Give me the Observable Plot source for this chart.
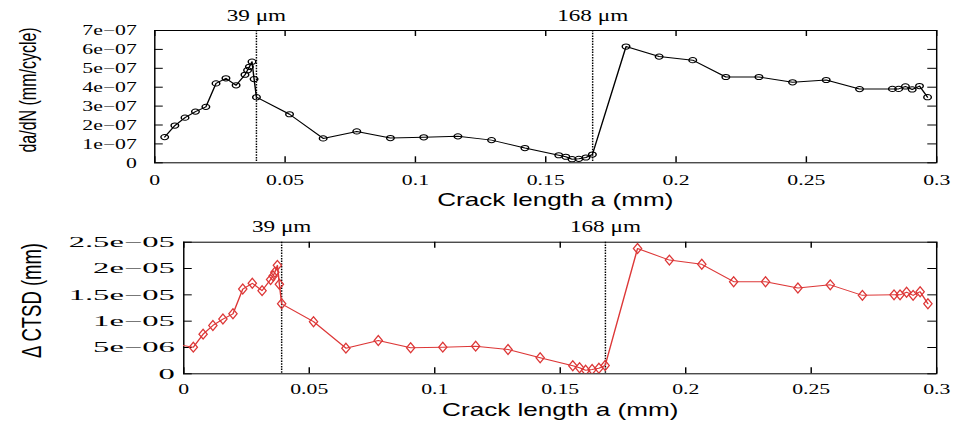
<!DOCTYPE html>
<html>
<head>
<meta charset="utf-8">
<script src="https://cdn.jsdelivr.net/npm/d3@7"></script>
<script src="https://cdn.jsdelivr.net/npm/@observablehq/plot@0.6"></script>
<style>
  html, body { margin: 0; padding: 0; background: #fff; }
  svg { display: block; }
</style>
</head>
<body>
<div id="chart"></div>
<script>
// ---- data ----
const crackA = [0.0038, 0.0077, 0.0116, 0.0156, 0.0196, 0.0235, 0.0273, 0.0312, 0.0346, 0.0356,
  0.0363, 0.0373, 0.0381, 0.0390, 0.0517, 0.0646, 0.0775, 0.0904, 0.1032, 0.1163,
  0.1292, 0.1420, 0.1550, 0.1577, 0.1601, 0.1627, 0.1654, 0.1679, 0.1808, 0.1935,
  0.2064, 0.2191, 0.2318, 0.2447, 0.2576, 0.2704, 0.2830, 0.2854, 0.2880, 0.2906,
  0.2934, 0.2965];
const dadN = [1.36e-7, 1.97e-7, 2.39e-7, 2.71e-7, 2.96e-7, 4.20e-7, 4.47e-7, 4.10e-7, 4.66e-7, 4.90e-7,
  5.08e-7, 5.35e-7, 4.43e-7, 3.47e-7, 2.57e-7, 1.29e-7, 1.66e-7, 1.31e-7, 1.35e-7, 1.40e-7,
  1.20e-7, 0.78e-7, 0.40e-7, 0.32e-7, 0.19e-7, 0.21e-7, 0.28e-7, 0.44e-7, 6.15e-7, 5.62e-7,
  5.43e-7, 4.54e-7, 4.54e-7, 4.26e-7, 4.38e-7, 3.90e-7, 3.91e-7, 3.91e-7, 4.04e-7, 3.88e-7,
  4.06e-7, 3.47e-7];
const ctsd = [5.06e-6, 7.53e-6, 9.18e-6, 10.4e-6, 11.4e-6, 16.1e-6, 17.2e-6, 15.8e-6, 17.9e-6, 18.6e-6,
  19.3e-6, 20.6e-6, 17.0e-6, 13.3e-6, 9.9e-6, 4.87e-6, 6.33e-6, 4.94e-6, 5.06e-6, 5.25e-6,
  4.62e-6, 3.04e-6, 1.52e-6, 1.14e-6, 0.68e-6, 0.82e-6, 1.06e-6, 1.58e-6, 23.8e-6, 21.6e-6,
  20.8e-6, 17.5e-6, 17.5e-6, 16.3e-6, 16.9e-6, 14.9e-6, 15.0e-6, 15.0e-6, 15.5e-6, 14.9e-6,
  15.6e-6, 13.3e-6];
// the CTSD curve enters from the left border (point just outside the range)
const ctsdLeadA = [-0.002];
const ctsdLeadV = [5.5e-6];

const markerA = [0.039, 0.168];
const markerLabels = ["39 \u03bcm", "168 \u03bcm"];

const xTicks = [0, 0.05, 0.1, 0.15, 0.2, 0.25, 0.3];
const xTickLabels = ["0", "0.05", "0.1", "0.15", "0.2", "0.25", "0.3"];
const yTicksTop = [0, 1e-7, 2e-7, 3e-7, 4e-7, 5e-7, 6e-7, 7e-7];
const yTickLabelsTop = ["0", "1e\u221207", "2e\u221207", "3e\u221207", "4e\u221207", "5e\u221207", "6e\u221207", "7e\u221207"];
const yTicksBot = [0, 5e-6, 1e-5, 1.5e-5, 2e-5, 2.5e-5];
const yTickLabelsBot = ["0", "5e\u221206", "1e\u221205", "1.5e\u221205", "2e\u221205", "2.5e\u221205"];

const xTitle = "Crack length a (mm)";
const yTitleTop = "da/dN (mm/cycle)";
const yTitleBot = "\u0394 CTSD (mm)";

// ---- layout (logical units; the picture is stretched horizontally) ----
const W = 661, OUTW = 958;

function panel(cfg) {
  const fw = W - cfg.mL - cfg.mR, fh = cfg.H - cfg.mT - cfg.mB;
  const data = cfg.a.map((a, i) => ({a, v: cfg.v[i]}));
  const lineData = cfg.leadA ? cfg.leadA.map((a, i) => ({a, v: cfg.leadV[i]})).concat(data) : data;
  const plot = Plot.plot({
    width: W, height: cfg.H,
    marginLeft: cfg.mL, marginRight: cfg.mR, marginTop: cfg.mT, marginBottom: cfg.mB,
    style: {fontFamily: "'Liberation Serif', 'Times New Roman', serif", fontSize: "15px", color: "black", background: "white"},
    x: {domain: [0, 0.3]},
    y: {domain: cfg.yDomain},
    marks: [
      Plot.ruleX(markerA, {x: d => d, stroke: "black", strokeWidth: 1, strokeDasharray: "1.5,1.2"}),
      Plot.tickX(xTicks, {x: d => d, insetTop: fh - 6, stroke: "black"}),
      Plot.tickX(xTicks, {x: d => d, insetBottom: fh - 6, stroke: "black"}),
      Plot.tickY(cfg.yTicks, {y: d => d, insetRight: fw - 6, stroke: "black"}),
      Plot.tickY(cfg.yTicks, {y: d => d, insetLeft: fw - 6, stroke: "black"}),
      Plot.axisX(xTicks, {tickSize: 0, tickPadding: cfg.xPad, label: null,
        tickFormat: d => xTickLabels[xTicks.indexOf(d)], fontSize: 15}),
      Plot.axisY(cfg.yTicks, {tickSize: 0, tickPadding: cfg.yPad, label: null,
        tickFormat: d => cfg.yLabels[cfg.yTicks.indexOf(d)], fontSize: 15}),
      Plot.frame({stroke: "black", strokeWidth: 1}),
      Plot.line(lineData, {x: "a", y: "v", stroke: cfg.color, strokeWidth: 1, clip: true}),
      Plot.dot(data, {x: "a", y: "v", r: cfg.r, symbol: cfg.symbol, stroke: cfg.color, fill: "none", strokeWidth: 1, clip: true}),
      Plot.text(markerA, {x: d => d, text: (d, i) => markerLabels[i], frameAnchor: "top", dy: -15,
        lineAnchor: "middle", textAnchor: "middle", fontSize: 16, fill: "black"}),
      Plot.text([xTitle], {frameAnchor: "bottom", dx: cfg.xtDx, dy: cfg.xtDy, lineAnchor: "middle", textAnchor: "middle",
        fontFamily: "'Liberation Sans', Arial, sans-serif", fontSize: 18, fill: "black"}),
      Plot.text([cfg.yTitle], {frameAnchor: "left", rotate: -90, dx: cfg.ytDx, dy: cfg.ytDy,
        lineAnchor: "middle", textAnchor: "middle",
        fontFamily: "'Liberation Sans', Arial, sans-serif", fontSize: cfg.ytSize, fill: "black"})
    ]
  });
  // horizontal stretch to reproduce the reference's aspect
  plot.setAttribute("width", OUTW);
  plot.setAttribute("height", cfg.H);
  plot.setAttribute("viewBox", `0 0 ${W} ${cfg.H}`);
  plot.setAttribute("preserveAspectRatio", "none");
  plot.style.width = OUTW + "px";
  plot.style.height = cfg.H + "px";
  plot.style.maxWidth = "none";
  return plot;
}

const topPanel = panel({
  H: 211, mL: 106.3, mR: 15.2, mT: 30, mB: 48.7,
  a: crackA, v: dadN, yDomain: [0, 7e-7], yTicks: yTicksTop, yLabels: yTickLabelsTop,
  color: "black", symbol: "circle", r: 2.6,
  xPad: 12, yPad: 12.4, xtDx: 6.6, xtDy: 37.7,
  yTitle: yTitleTop, ytDx: -87, ytDy: -6.7, ytSize: 16
});
const bottomPanel = panel({
  H: 212, mL: 126.3, mR: 15.2, mT: 30.7, mB: 49.7,
  a: crackA, v: ctsd, leadA: ctsdLeadA, leadV: ctsdLeadV,
  yDomain: [0, 2.5e-5], yTicks: yTicksBot, yLabels: yTickLabelsBot,
  color: "#dd3838", symbol: "diamond", r: 3,
  xPad: 9.5, yPad: 6.2, xtDx: 0, xtDy: 36.7,
  yTitle: yTitleBot, ytDx: -104.3, ytDy: -7.5, ytSize: 18.5
});
document.getElementById("chart").append(topPanel, bottomPanel);

// the lower panel's y tick labels are drawn wider in the reference
bottomPanel.querySelectorAll('g[aria-label="y-axis tick label"] text').forEach(t => {
  const L = t.getComputedTextLength();
  if (L > 0) {
    t.setAttribute("textLength", (L * 1.5).toFixed(2));
    t.setAttribute("lengthAdjust", "spacingAndGlyphs");
  }
});
</script>
</body>
</html>
